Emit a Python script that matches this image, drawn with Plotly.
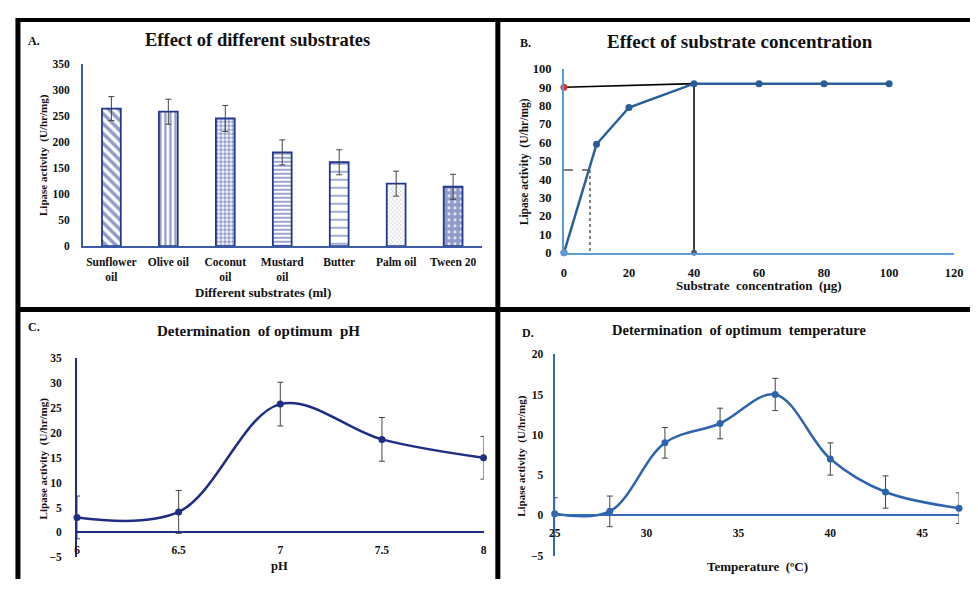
import plotly.graph_objects as go

# The page has an 8px body margin (plus a little extra height below the plot),
# so the figure is sized to make the whole page exactly 978x595.
PAGE_W, PAGE_H, PAD = 978, 595, 8
W, H = PAGE_W - 2 * PAD, PAGE_H - 3 * PAD
def fx(px): return (px - PAD) / W
def fy(py): return 1 - (py - PAD) / H

# ---------------- data ----------------
substrates = ["Sunflower<br>oil", "Olive oil", "Coconut<br>oil", "Mustard<br>oil", "Butter", "Palm oil", "Tween 20"]
substrate_activity = [264, 258, 245, 180, 161, 120, 114]
substrate_err = [23, 24, 25, 24, 24, 24, 24]

conc = [0, 10, 20, 40, 60, 80, 100]
conc_activity = [0, 59, 79, 92, 92, 92, 92]
vmax_x = [0, 40, 40]
vmax_y = [90, 92, 0]
km_hx = [0, 8]
km_hy = [45, 45]
km_vx = [8, 8]
km_vy = [45, 0]

ph = [6, 6.5, 7, 7.5, 8]
ph_activity = [3.0, 4.1, 25.8, 18.7, 15.0]
ph_err = [4.3, 4.3, 4.4, 4.4, 4.3]

temp = [25, 28, 31, 34, 37, 40, 43, 47]
temp_activity = [0.2, 0.5, 9.0, 11.4, 15.0, 7.0, 2.9, 0.9]
temp_err = [2.0, 1.9, 1.9, 1.9, 2.0, 2.0, 2.0, 1.9]

FONT = "Liberation Serif"
navy = "#22378f"
errc = "#444444"

fig = go.Figure()

# ---- A: bars ----
fig.add_trace(go.Bar(
    x=substrates, y=substrate_activity, width=0.33,
    error_y=dict(type="data", array=substrate_err, color=errc, thickness=1, width=3),
    marker=dict(
        color="white",
        line=dict(color=navy, width=1.8),
        pattern=dict(
            shape=["\\", "|", ".", "-", "-", "x", "."],
            size=[7, 5, 4, 4, 8, 3, 6],
            solidity=[0.5, 0.45, 0.6, 0.45, 0.25, 0.3, 0.8],
            fgcolor=[navy, navy, navy, navy, "#4a5fa8", "#8a8fa8", navy],
            bgcolor="white", fillmode="overlay"),
    ),
    xaxis="x", yaxis="y", showlegend=False))

# ---- B: substrate concentration ----
fig.add_trace(go.Scatter(x=km_hx, y=km_hy, mode="lines",
    line=dict(color="black", width=1, dash="dash"), xaxis="x2", yaxis="y2",
    showlegend=False, cliponaxis=False))
fig.add_trace(go.Scatter(x=km_vx, y=km_vy, mode="lines",
    line=dict(color="black", width=1, dash="dot"), xaxis="x2", yaxis="y2",
    showlegend=False, cliponaxis=False))
fig.add_trace(go.Scatter(x=vmax_x, y=vmax_y, mode="lines",
    line=dict(color="black", width=1.5), xaxis="x2", yaxis="y2",
    showlegend=False, cliponaxis=False))
fig.add_trace(go.Scatter(x=conc, y=conc_activity, mode="lines+markers",
    line=dict(color="#2b5f97", width=2.5),
    marker=dict(color="#2a5d98", size=7),
    xaxis="x2", yaxis="y2", showlegend=False, cliponaxis=False))
fig.add_trace(go.Scatter(x=[vmax_x[0]], y=[vmax_y[0]], mode="markers",
    marker=dict(color="#d9342b", size=7), xaxis="x2", yaxis="y2",
    showlegend=False, cliponaxis=False))
fig.add_trace(go.Scatter(x=[vmax_x[2]], y=[vmax_y[2]], mode="markers",
    marker=dict(color="#4a5a7a", size=6), xaxis="x2", yaxis="y2",
    showlegend=False, cliponaxis=False))
fig.add_trace(go.Scatter(x=[conc[0]], y=[conc_activity[0]], mode="markers",
    marker=dict(color="#5b9bd5", size=7), xaxis="x2", yaxis="y2",
    showlegend=False, cliponaxis=False))

# ---- C: pH ----
fig.add_trace(go.Scatter(x=ph, y=ph_activity, mode="lines+markers",
    line=dict(color="#1f2d84", width=2.5, shape="spline", smoothing=1),
    marker=dict(color="#1f2d84", size=7),
    error_y=dict(type="data", array=ph_err, color=errc, thickness=1, width=3),
    xaxis="x3", yaxis="y3", showlegend=False, cliponaxis=False))

# ---- D: temperature ----
fig.add_trace(go.Scatter(x=temp, y=temp_activity, mode="lines+markers",
    line=dict(color="#2e64ad", width=2.5, shape="spline", smoothing=1),
    marker=dict(color="#2e64ad", size=7),
    error_y=dict(type="data", array=temp_err, color=errc, thickness=1, width=3),
    xaxis="x4", yaxis="y4", showlegend=False, cliponaxis=False))

tickf = dict(family=FONT, size=11.5, color="#111111", weight="bold")
tickf12 = dict(family=FONT, size=12.5, color="#111111", weight="bold")

common = dict(showgrid=False, zeroline=False, ticks="", fixedrange=True,
              ticklabeloverflow="allow")

fig.update_layout(
    width=W, height=H, margin=dict(l=0, r=0, t=0, b=0),
    paper_bgcolor="white", plot_bgcolor="rgba(0,0,0,0)",
    xaxis=dict(domain=[fx(78), fx(483)], anchor="y", range=[-0.5, 6.5],
               showline=True, linecolor="#3b5ba5", linewidth=1.5,
               tickfont=tickf, ticklabelstandoff=4, **common),
    yaxis=dict(domain=[fy(245), fy(58)], anchor="x", range=[0, 350], dtick=50,
               showline=True, linecolor="#3b5ba5", linewidth=1.5,
               tickfont=tickf, ticklabelstandoff=9, **common),
    xaxis2=dict(domain=[fx(566.7), fx(963)], anchor="y2", range=[0, 120], dtick=20,
                showline=True, linecolor="#5b9bd5", linewidth=2,
                tickfont=tickf12, ticklabelstandoff=7, **common),
    yaxis2=dict(domain=[fy(251.7), fy(63.3)], anchor="x2", range=[0, 100], dtick=10,
                showline=True, linecolor="#5b9bd5", linewidth=2,
                tickfont=tickf12, ticklabelstandoff=8, **common),
    xaxis3=dict(domain=[fx(72), fx(485)], anchor="free", position=fy(538.3),
                range=[6, 8], dtick=0.5,
                showline=True, linecolor="#1f2d84", linewidth=2,
                tickfont=tickf, ticklabelstandoff=7, **common),
    yaxis3=dict(domain=[fy(563.8), fy(360)], anchor="x3", range=[-5, 35], dtick=5,
                showline=True, linecolor="#1f2d84", linewidth=2,
                tickfont=tickf, ticklabelstandoff=11, **common),
    xaxis4=dict(domain=[fx(557.2), fx(968)], anchor="free", position=fy(521),
                range=[25, 47], tickvals=[25, 30, 35, 40, 45],
                showline=True, linecolor="#3569b3", linewidth=2,
                tickfont=tickf, ticklabelstandoff=7, **common),
    yaxis4=dict(domain=[fy(562.3), fy(355.7)], anchor="x4", range=[-5, 20], dtick=5,
                showline=True, linecolor="#3569b3", linewidth=2,
                tickfont=tickf, ticklabelstandoff=7, **common),
)

def ann(text, x, y, size, angle=0, bold=True):
    fig.add_annotation(text=text, x=fx(x), y=fy(y), xref="paper", yref="paper",
                       showarrow=False, textangle=angle, xanchor="center", yanchor="middle",
                       font=dict(family=FONT, size=size, color="#111111",
                                 weight="bold" if bold else "normal"))

# panel titles and labels
ann("Effect of different substrates", 255, 34, 18.5)
ann("Effect of substrate concentration", 745, 35, 19)
ann("Determination  of optimum  pH", 256, 332, 15)
ann("Determination  of optimum  temperature", 744, 331, 14.5)
ann("A.", 28, 35, 12)
ann("B.", 528, 37, 12)
ann("C.", 28, 328, 12)
ann("D.", 530, 334, 12)

# axis titles
ann("Lipase activity  (U/hr/mg)", 38, 152, 11, angle=-90)
ann("Lipase activity  (U/hr/mg)", 526, 158, 11.5, angle=-90)
ann("Lipase activity  (U/hr/mg)", 38, 463, 11, angle=-90)
ann("Lipase activity  (U/hr/mg)", 524, 460, 11, angle=-90)
ann("Different substrates (ml)", 261, 292, 13)
ann("Substrate  concentration  (µg)", 765, 285, 13)
ann("pH", 278, 573, 12.5)
ann("Temperature  (ºC)", 763, 573, 13)

# panel borders
def line(x0, y0, x1, y1, w):
    fig.add_shape(type="line", xref="paper", yref="paper",
                  x0=fx(x0), y0=fy(y0), x1=fx(x1), y1=fy(y1),
                  line=dict(color="black", width=w))

line(10, 13, 990, 13, 4)
line(12, 11, 12, 600, 5)
line(499.5, 11, 499.5, 600, 5)
line(10, 310, 990, 310, 5)

fig.write_html("out.html", config={"displayModeBar": False})
